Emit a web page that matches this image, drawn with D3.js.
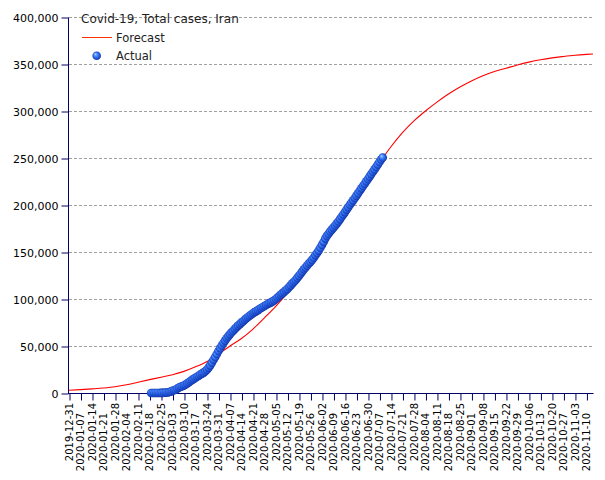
<!DOCTYPE html>
<html>
<head>
<meta charset="utf-8">
<script src="https://cdn.jsdelivr.net/npm/d3@7"></script>
<style>
  html, body { margin: 0; padding: 0; background: #fff; }
  svg { display: block; }
  text { font-family: "DejaVu Sans", Verdana, sans-serif; }
</style>
</head>
<body>
<svg id="chart" width="605" height="480"></svg>
<script>
// ---------------- DATA ----------------
const chartTitle = "Covid-19, Total cases, Iran";
const legendLabels = ["Forecast", "Actual"];

const yTicks = [0, 50000, 100000, 150000, 200000, 250000, 300000, 350000, 400000];

const xTickLabels = [
  "2019-12-31","2020-01-07","2020-01-14","2020-01-21","2020-01-28","2020-02-04",
  "2020-02-11","2020-02-18","2020-02-25","2020-03-03","2020-03-10","2020-03-17",
  "2020-03-24","2020-03-31","2020-04-07","2020-04-14","2020-04-21","2020-04-28",
  "2020-05-05","2020-05-12","2020-05-19","2020-05-26","2020-06-02","2020-06-09",
  "2020-06-16","2020-06-23","2020-06-30","2020-07-07","2020-07-14","2020-07-21",
  "2020-07-28","2020-08-04","2020-08-11","2020-08-18","2020-08-25","2020-09-01",
  "2020-09-08","2020-09-15","2020-09-22","2020-09-29","2020-10-06","2020-10-13",
  "2020-10-20","2020-10-27","2020-11-03","2020-11-10"
];

const xDomain = ["2019-12-31", "2020-11-14"];

// Forecast (weekly readings + end point)
const forecastDates = [
  "2019-12-31","2020-01-07","2020-01-14","2020-01-21","2020-01-28","2020-02-04",
  "2020-02-11","2020-02-18","2020-02-25","2020-03-03","2020-03-10","2020-03-17",
  "2020-03-24","2020-03-31","2020-04-07","2020-04-14","2020-04-21","2020-04-28",
  "2020-05-05","2020-05-12","2020-05-19","2020-05-26","2020-06-02","2020-06-09",
  "2020-06-16","2020-06-23","2020-06-30","2020-07-07","2020-07-14","2020-07-21",
  "2020-07-28","2020-08-04","2020-08-11","2020-08-18","2020-08-25","2020-09-01",
  "2020-09-08","2020-09-15","2020-09-22","2020-09-29","2020-10-06","2020-10-13",
  "2020-10-20","2020-10-27","2020-11-03","2020-11-10","2020-11-14"
];
const forecastValues = [
  2900, 3600, 4400, 5300, 6600, 8700,
  11500, 14200, 16800, 19500, 23000, 27800,
  33500, 41500, 50000, 58000, 68000, 80000,
  92500, 106500, 122000, 138000, 155000, 173000,
  191000, 209000, 227000, 245000, 262000, 277000,
  289500, 300000, 309500, 318000, 325500, 332000,
  337500, 342000, 345500, 349000, 352000, 354500,
  356500, 358000, 359300, 360200, 360600
];

// Actual daily totals, starting 2020-02-19
const actualStart = "2020-02-19";
const actualValues = [
  2, 5, 18, 28, 43, 61, 95, 139, 245, 388, 593,
  978, 1501, 2336, 2922, 3513, 4747, 5823, 6566, 7161, 8042, 9000, 10075, 11364, 12729, 13938,
  14991, 16169, 17361, 18407, 19644, 20610, 21638, 23049, 24811, 27017, 29406, 32332, 35408,
  38309, 41495, 44605,
  47593, 50468, 53183, 55743, 58226, 60500, 62589, 64586, 66220, 68192, 70029, 71686, 73303,
  74877, 76389, 77995, 79494, 80868, 82211, 83505, 84802, 85996, 87026, 88194, 89328, 90481,
  91472, 92584, 93657, 94640,
  95646, 96448, 97424, 98647, 99970, 101650, 103135, 104691, 106220, 107603, 109286, 110767,
  112725, 114533, 116635, 118392, 120198, 122492, 124603, 126949, 129341, 131652, 133521,
  135701, 137724, 139511, 141591, 143849, 146668, 148950, 151466,
  154445, 157562, 160696, 164270, 167156, 169425, 171789, 173832, 175927, 177938, 180156,
  182525, 184955, 187427, 189876, 192439, 195051, 197647, 200262, 202584, 204952, 207525,
  209970, 212501, 215096, 217724, 220180, 222669, 225205, 227662,
  230211, 232863, 235429, 237878, 240438, 243051, 245688, 248379, 250458
];

// ---------------- CHART ----------------
const parse = d3.utcParse("%Y-%m-%d");
const svg = d3.select("#chart");
const axisColor = "#000066";

const x = d3.scaleUtc().domain(xDomain.map(parse)).range([69, 593]);
const y = d3.scaleLinear().domain([0, 400000]).range([393, 17]);

const forecast = forecastDates.map((d, i) => ({ date: parse(d), value: forecastValues[i] }));
const start = parse(actualStart);
const actual = actualValues.map((v, i) => ({ date: d3.utcDay.offset(start, i), value: v }));

// defs: sphere gradient
const defs = svg.append("defs");
const grad = defs.append("radialGradient")
  .attr("id", "sphere").attr("cx", "50%").attr("cy", "50%").attr("r", "55%")
  .attr("fx", "32%").attr("fy", "30%");
[["0%", "#d2e8ff"], ["22%", "#6aa6ff"], ["55%", "#2f6cf0"], ["85%", "#1743c0"], ["100%", "#0c2488"]]
  .forEach(([o, c]) => grad.append("stop").attr("offset", o).attr("stop-color", c));

// grid
svg.append("g").selectAll("line")
  .data(yTicks.filter(t => t > 0))
  .join("line")
  .attr("x1", 69).attr("x2", 593)
  .attr("y1", d => Math.round(y(d)) + 0.5).attr("y2", d => Math.round(y(d)) + 0.5)
  .attr("stroke", "#a0a0a0").attr("stroke-width", 1).attr("stroke-dasharray", "3,2");

// y axis
const yAxis = d3.axisLeft(y).tickValues(yTicks).tickSize(7).tickFormat(d3.format(","));
const gy = svg.append("g").attr("transform", "translate(68.5,0.5)").call(yAxis);
gy.select(".domain").attr("stroke", axisColor).attr("d", `M0,${y(400000)}V${y(0)}`);
gy.selectAll(".tick line").attr("stroke", axisColor);
gy.selectAll(".tick text").attr("fill", "#000").attr("font-size", "11px")
  .attr("font-family", '"DejaVu Sans", Verdana, sans-serif').attr("x", -10);

// x axis
const xTickDates = xTickLabels.map(parse);
const xAxis = d3.axisBottom(x).tickValues(xTickDates).tickSize(7).tickFormat("");
const gx = svg.append("g").attr("transform", "translate(0.5,393.5)").call(xAxis);
gx.select(".domain").attr("stroke", axisColor).attr("d", `M67.5,0H593`);
gx.selectAll(".tick line").attr("stroke", axisColor);

svg.append("g").selectAll("text")
  .data(xTickLabels)
  .join("text")
  .attr("transform", (d, i) => `translate(${x(parse(d)) + 0.5},${i % 2 === 0 ? 403 : 413}) rotate(-90)`)
  .attr("text-anchor", "end")
  .attr("dy", "0.35em")
  .attr("font-size", "10px")
  .attr("fill", "#000")
  .text(d => d);

// forecast line
svg.append("path")
  .datum(forecast)
  .attr("fill", "none")
  .attr("stroke", "#ff0000")
  .attr("stroke-width", 1.1)
  .attr("d", d3.line().x(d => x(d.date)).y(d => y(d.value)).curve(d3.curveMonotoneX));

// actual points
svg.append("g").selectAll("circle")
  .data(actual)
  .join("circle")
  .attr("cx", d => x(d.date))
  .attr("cy", d => y(d.value))
  .attr("r", 4.3)
  .attr("fill", "url(#sphere)");

// legend
svg.append("text").attr("x", 81).attr("y", 23).attr("font-size", "12px").attr("fill", "#222").text(chartTitle);
svg.append("line").attr("x1", 82).attr("x2", 112).attr("y1", 37.5).attr("y2", 37.5)
  .attr("stroke", "#ff3000").attr("stroke-width", 1);
svg.append("text").attr("x", 116).attr("y", 42).attr("font-size", "11.5px").attr("fill", "#222").text(legendLabels[0]);
svg.append("circle").attr("cx", 96.7).attr("cy", 55.7).attr("r", 4.3).attr("fill", "url(#sphere)");
svg.append("text").attr("x", 116).attr("y", 60).attr("font-size", "11.5px").attr("fill", "#222").text(legendLabels[1]);
</script>
</body>
</html>
